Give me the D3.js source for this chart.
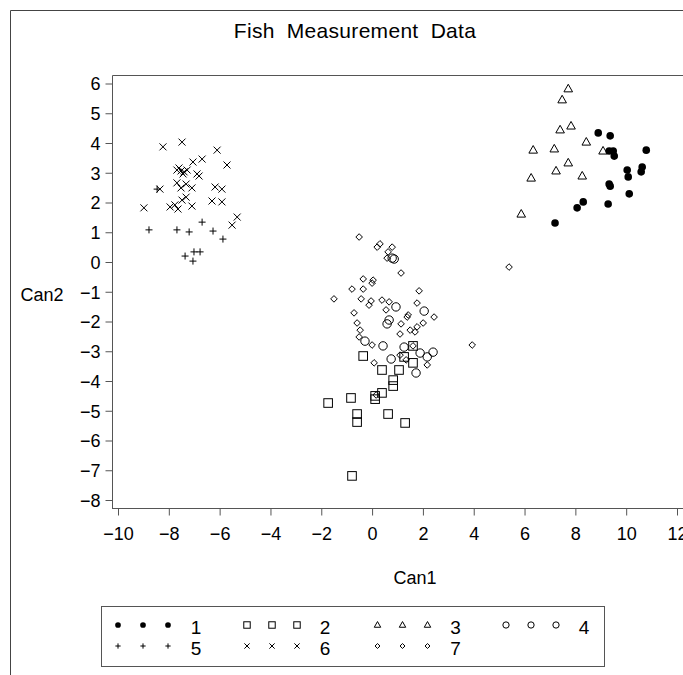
<!DOCTYPE html>
<html><head><meta charset="utf-8">
<script src="https://cdn.jsdelivr.net/npm/d3@7"></script>
<style>body{margin:0;background:#fff}svg{display:block}text{font-family:"Liberation Sans",Arial,sans-serif;fill:#000}</style>
</head><body><svg id="c" width="683" height="675"></svg>
<script>
// ---- data (Can1, Can2) per group ----
const groups = ["1","2","3","4","5","6","7"];
const g1 = [[8.90,4.34],[9.37,4.24],[9.33,3.73],[9.49,3.73],[9.53,3.56],[10.79,3.76],[10.04,3.09],[10.63,3.19],[10.59,3.03],[10.08,2.86],[9.33,2.62],[9.37,2.55],[10.12,2.29],[8.31,2.02],[8.07,1.82],[9.29,1.95],[7.20,1.31]];
const g2 = [[-1.73,-4.74],[-0.83,-4.57],[-0.59,-5.11],[-0.59,-5.38],[0.12,-4.50],[0.12,-4.61],[0.39,-4.40],[0.63,-5.11],[1.30,-5.41],[0.83,-3.97],[0.83,-4.17],[0.39,-3.63],[1.06,-3.63],[1.61,-3.39],[1.26,-3.19],[1.61,-2.82],[-0.35,-3.16],[-0.79,-7.19]];
const g3 = [[7.72,5.82],[7.48,5.45],[7.40,4.44],[7.83,4.57],[8.43,4.03],[6.34,3.76],[7.17,3.80],[9.09,3.73],[7.72,3.33],[7.24,3.06],[6.26,2.82],[8.27,2.89],[5.87,1.61]];
const g4 = [[0.79,0.13],[0.87,0.10],[0.94,-1.51],[2.05,-1.65],[0.67,-1.95],[0.59,-2.08],[-0.28,-2.66],[0.43,-2.82],[1.26,-2.86],[1.89,-3.06],[2.40,-3.03],[0.75,-3.26],[2.17,-3.19],[1.73,-3.73]];
const g5 = [[-8.46,2.45],[-8.78,1.08],[-7.68,1.08],[-7.20,1.01],[-6.69,1.34],[-6.26,1.04],[-5.87,0.77],[-7.36,0.20],[-7.01,0.34],[-6.77,0.34],[-7.05,0.03]];
const g6 = [[-8.23,3.87],[-7.48,4.03],[-6.10,3.76],[-5.71,3.26],[-6.69,3.46],[-7.05,3.36],[-7.68,3.09],[-7.52,3.06],[-7.40,3.03],[-7.28,3.09],[-7.44,2.96],[-7.60,3.16],[-6.89,2.96],[-6.81,2.89],[-7.68,2.66],[-7.32,2.62],[-7.52,2.49],[-7.09,2.49],[-8.35,2.45],[-6.18,2.52],[-5.91,2.45],[-7.32,2.18],[-7.48,2.08],[-6.30,2.05],[-5.91,2.02],[-7.95,1.85],[-7.76,1.92],[-7.64,1.78],[-7.09,1.88],[-8.98,1.82],[-5.31,1.51],[-5.51,1.24]];
const g7 = [[-0.51,0.84],[0.20,0.50],[0.31,0.61],[0.79,0.50],[0.63,0.34],[0.59,0.13],[1.14,-0.37],[-0.35,-0.57],[0.04,-0.61],[0.00,-0.71],[-0.79,-0.91],[-0.35,-0.91],[1.85,-0.97],[-1.50,-1.24],[-0.43,-1.24],[-0.04,-1.31],[-0.12,-1.45],[0.39,-1.28],[0.67,-1.34],[1.77,-1.38],[0.55,-1.61],[-0.71,-1.71],[2.44,-1.85],[2.01,-2.05],[1.38,-1.85],[1.42,-1.78],[1.14,-2.08],[-0.59,-2.05],[-0.47,-2.29],[1.77,-2.18],[1.50,-2.29],[1.69,-2.35],[1.10,-2.42],[-0.51,-2.52],[0.00,-2.79],[3.94,-2.79],[1.10,-3.13],[1.34,-3.29],[2.17,-3.46],[0.08,-3.39],[0.16,-4.47],[1.61,-2.82],[5.39,-0.17]];
const series = [g1,g2,g3,g4,g5,g6,g7];
const xTicks = [-10,-8,-6,-4,-2,0,2,4,6,8,10,12];
const yTicks = [6,5,4,3,2,1,0,-1,-2,-3,-4,-5,-6,-7,-8];

const svg = d3.select("#c");
const x = d3.scaleLinear().domain([-10,12]).range([118,677]);
const y = d3.scaleLinear().domain([-8,6]).range([500,83.5]);
const L=112, T=75, B=508;
const fmt = v => v<0 ? "\u2212"+Math.abs(v) : String(v);

// outer frame
svg.append("path").attr("d","M10.5,675V10.5H683").attr("fill","none").attr("stroke","#444").attr("stroke-width",1);
// title
svg.append("text").attr("x",355).attr("y",38).attr("text-anchor","middle").attr("font-size",21).attr("word-spacing",6).attr("letter-spacing",0.3).text("Fish Measurement Data");

// plot frame
svg.append("path").attr("d",`M${L+0.5},${B+0.5}V${T+0.5}H683`).attr("fill","none").attr("stroke","#555");
svg.append("path").attr("d",`M${L},${B+0.5}H683`).attr("fill","none").attr("stroke","#555");

const xa = svg.append("g").attr("transform",`translate(0,${B+0.5})`)
  .call(d3.axisBottom(x).tickValues(xTicks).tickSize(7).tickSizeOuter(0).tickFormat(fmt));
xa.select(".domain").remove();
xa.selectAll("line").attr("stroke","#555");
xa.selectAll("text").attr("font-size",18).attr("y",19).attr("dy","0.71em").attr("fill","#000");

const ya = svg.append("g").attr("transform",`translate(${L+0.5},0)`)
  .call(d3.axisLeft(y).tickValues(yTicks).tickSize(7).tickSizeOuter(0).tickFormat(fmt));
ya.select(".domain").remove();
ya.selectAll("line").attr("stroke","#555");
ya.selectAll("text").attr("font-size",18).attr("x",-12).attr("dy","0.35em").attr("fill","#000");

svg.append("text").attr("x",415).attr("y",584).attr("text-anchor","middle").attr("font-size",18).text("Can1");
svg.append("text").attr("x",42).attr("y",301).attr("text-anchor","middle").attr("font-size",18).text("Can2");

// symbols
function sym(g, k, s){ // s scale factor
  const st = {fill:"none",stroke:"#000","stroke-width":1};
  let el;
  if(k===0){ el=g.append("circle").attr("r",3.8*s).attr("fill","#000"); return; }
  if(k===1){ el=g.append("rect").attr("x",-4.3*s).attr("y",-4.3*s).attr("width",8.6*s).attr("height",8.6*s); }
  if(k===2){ el=g.append("path").attr("d",`M0,${-4.6*s}L${4.3*s},${3*s}L${-4.3*s},${3*s}Z`); }
  if(k===3){ el=g.append("circle").attr("r",4.2*s); }
  if(k===4){ el=g.append("path").attr("d",`M${-3.5*s},0H${3.5*s}M0,${-3.5*s}V${3.5*s}`); }
  if(k===5){ el=g.append("path").attr("d",`M${-3.5*s},${-3.5*s}L${3.5*s},${3.5*s}M${-3.5*s},${3.5*s}L${3.5*s},${-3.5*s}`); }
  if(k===6){ el=g.append("path").attr("d",`M0,${-3.3*s}L${3.3*s},0L0,${3.3*s}L${-3.3*s},0Z`); }
  for(const a in st) el.attr(a,st[a]);
}
series.forEach((data,k)=>{
  data.forEach(d=>{
    const g = svg.append("g").attr("transform",`translate(${x(d[0])},${y(d[1])})`);
    sym(g,k,1);
  });
});

// legend
svg.append("rect").attr("x",101.5).attr("y",606.5).attr("width",503).attr("height",60).attr("fill","none").attr("stroke","#555");
const colX = [118,247,377.5,506];
const rowY = [628,649];
groups.forEach((name,k)=>{
  const col = k%4, row = Math.floor(k/4);
  const cx = colX[col], cy = rowY[row];
  [0,25,50].forEach(dx=>{
    const g = svg.append("g").attr("transform",`translate(${cx+dx},${cy-3})`);
    sym(g,k,0.75);
  });
  svg.append("text").attr("x",cx+78).attr("y",cy+6).attr("text-anchor","middle").attr("font-size",19).text(name);
});
</script></body></html>
